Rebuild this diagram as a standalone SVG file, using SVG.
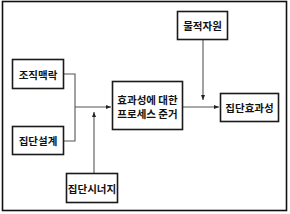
<svg xmlns="http://www.w3.org/2000/svg" width="290" height="214" viewBox="0 0 290 214">
<style>
.box{fill:#fff;stroke:#1a1a1a;stroke-width:1.6}
.lbl{font-family:"Noto Sans CJK KR","Noto Sans",sans-serif;font-size:10.5px;font-weight:bold;fill:#111;text-anchor:middle;dominant-baseline:central}
.ln{fill:none;stroke:#555;stroke-width:1.1}
</style>
<defs>
<marker id="ah" viewBox="0 0 10 10" refX="10" refY="5" markerWidth="5" markerHeight="5" orient="auto" markerUnits="userSpaceOnUse">
<path d="M0,1 L10,5 L0,9 z" fill="#222"/>
</marker>
</defs>
<rect x="2.5" y="1.5" width="284" height="209" fill="#fff" stroke="#111" stroke-width="1.6"/>
<g id="connectors">
<path class="ln" d="M63,74 H75 V141 H63"/>
<path class="ln" d="M75,107 H111" marker-end="url(#ah)"/>
<path class="ln" d="M94,173 V112" marker-end="url(#ah)"/>
<path class="ln" d="M182,107 H219" marker-end="url(#ah)"/>
<path class="ln" d="M203,39 V100" marker-end="url(#ah)"/>
</g>
<g id="n1"><rect class="box" x="12.5" y="59.5" width="51" height="29"/><text class="lbl" x="38" y="74">조직맥락</text></g>
<g id="n2"><rect class="box" x="12.5" y="126.5" width="51" height="28"/><text class="lbl" x="38" y="140.5">집단설계</text></g>
<g id="n3"><rect class="box" x="112.5" y="81.5" width="70" height="48"/><text class="lbl" x="147.5" y="99">효과성에 대한</text><text class="lbl" x="147.5" y="113">프로세스 준거</text></g>
<g id="n4"><rect class="box" x="177.5" y="11.5" width="50" height="28"/><text class="lbl" x="202.5" y="25.5">물적자원</text></g>
<g id="n5"><rect class="box" x="220.5" y="93.5" width="58" height="28"/><text class="lbl" x="249.5" y="107.5">집단효과성</text></g>
<g id="n6"><rect class="box" x="66.5" y="173.5" width="51" height="29"/><text class="lbl" x="92" y="188">집단시너지</text></g>
</svg>
